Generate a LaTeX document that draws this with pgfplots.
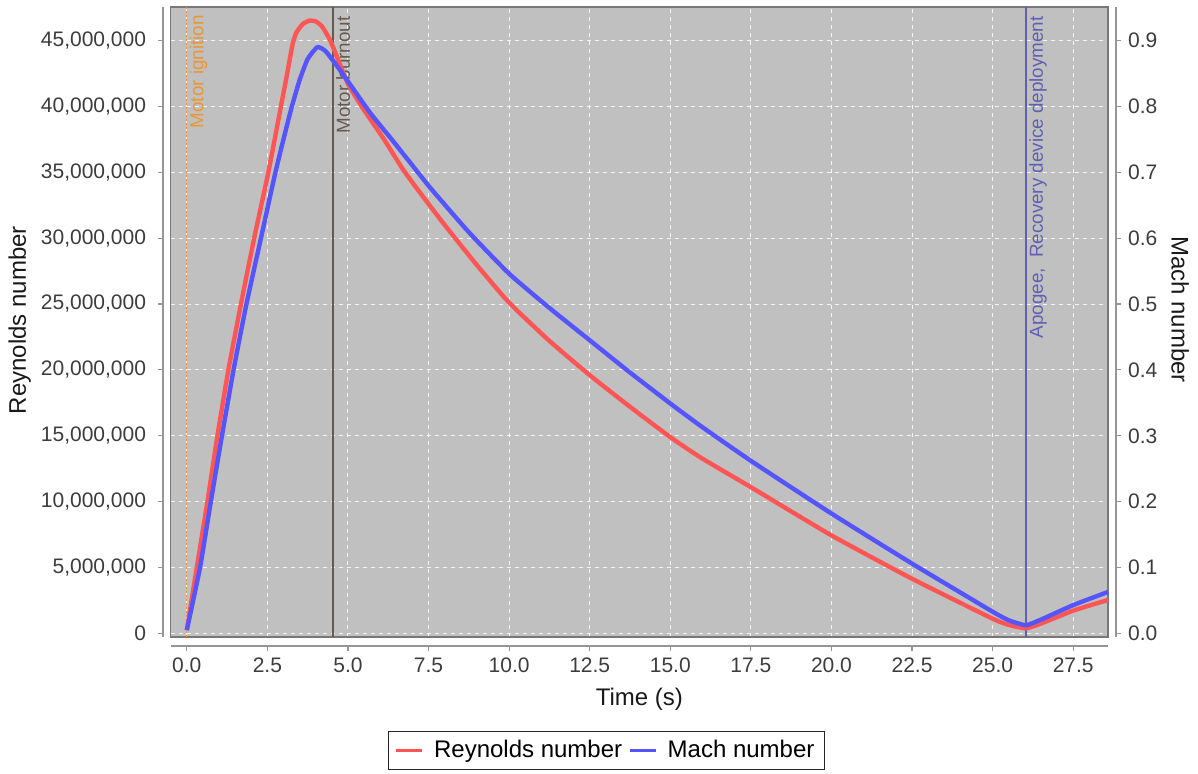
\documentclass[border=0pt]{standalone}
\usepackage{fontspec}
\setmainfont{Liberation Sans}
\usepackage{pgfplots}
\pgfplotsset{compat=1.18}

\definecolor{plotbg}{RGB}{192,192,192}
\definecolor{framegray}{RGB}{120,120,120}
\definecolor{spinegray}{RGB}{150,150,150}
\definecolor{ticktext}{RGB}{60,60,60}
\definecolor{labeltext}{RGB}{25,25,25}
\definecolor{reLine}{RGB}{255,85,85}
\definecolor{machLine}{RGB}{85,85,255}
\definecolor{ignition}{RGB}{235,150,50}
\definecolor{burnout}{RGB}{100,90,80}
\definecolor{apogee}{RGB}{95,95,180}

% Reynolds number vs time
\pgfplotstableread{
t re
0.00 250000
0.31 5000000
0.64 10000000
0.95 15000000
1.29 20000000
1.68 25000000
2.09 30000000
2.53 35000000
2.92 40000000
3.10 42300000
3.28 44700000
3.40 45600000
3.60 46250000
3.80 46500000
4.00 46450000
4.20 46050000
4.45 45000000
4.70 43500000
5.00 41700000
5.45 39900000
6.09 37600000
6.71 35200000
7.25 33400000
8.00 31000000
9.00 27950000
10.00 25100000
11.25 22200000
12.50 19600000
13.75 17200000
15.00 14900000
15.94 13350000
17.50 11100000
20.00 7440000
22.50 4150000
25.00 1120000
25.50 650000
26.03 390000
26.50 750000
27.50 1730000
28.58 2540000
}\redata

% Mach number vs time
\pgfplotstableread{
t mach
0.00 0.005
0.41 0.100
0.745 0.200
1.09 0.300
1.45 0.400
1.85 0.500
2.30 0.600
2.75 0.700
3.05 0.760
3.26 0.800
3.50 0.840
3.75 0.872
4.05 0.890
4.30 0.884
4.65 0.862
5.07 0.833
5.69 0.790
6.32 0.752
6.94 0.714
7.56 0.676
8.75 0.609
10.00 0.546
11.25 0.494
12.50 0.445
13.75 0.396
15.00 0.349
15.94 0.315
17.50 0.262
20.00 0.182
22.50 0.106
25.00 0.033
25.50 0.020
26.03 0.0125
26.50 0.021
27.50 0.043
28.58 0.063
}\machdata

\begin{document}
\begin{tikzpicture}
\path[use as bounding box] (-85.35pt,-68.5pt) rectangle (513.65pt,318.5pt);
\begin{axis}[
  scale only axis, width=468.65pt, height=315pt,
  xmin=-0.5, xmax=28.58, ymin=-270000, ymax=47540000,
  clip=false,
  axis background/.style={fill=plotbg},
  axis line style={draw=framegray, line width=0.6pt},
  tick align=outside, tick pos=left, major tick length=2.5pt,
  xtick={0,2.5,5,7.5,10,12.5,15,17.5,20,22.5,25,27.5},
  xticklabels={0.0,2.5,5.0,7.5,10.0,12.5,15.0,17.5,20.0,22.5,25.0,27.5},
  ytick={0,5000000,10000000,15000000,20000000,25000000,30000000,35000000,40000000,45000000},
  yticklabels={0,{5,000,000},{10,000,000},{15,000,000},{20,000,000},{25,000,000},{30,000,000},{35,000,000},{40,000,000},{45,000,000}},
  xtick style={draw=spinegray, line width=0.6pt, yshift=-4.5pt},
  ytick style={draw=spinegray, line width=0.6pt, xshift=-3.85pt},
  xticklabel style={yshift=-4.5pt, text=ticktext, font=\fontsize{10.5}{12}\selectfont},
  yticklabel style={xshift=-6.3pt, text=ticktext, font=\fontsize{10.5}{12}\selectfont},
  grid=major,
  major grid style={draw=white!92!gray, line width=0.5pt, dash pattern=on 2pt off 2pt},
  xlabel={Time (s)}, ylabel={Reynolds number},
  every axis x label/.style={at={(axis description cs:0.5,-0.0984)}, anchor=center, text=labeltext, font=\fontsize{12}{14}\selectfont},
  every axis y label/.style={at={(axis description cs:-0.161,0.503)}, rotate=90, anchor=center, text=labeltext, font=\fontsize{12}{14}\selectfont},
  legend style={at={(axis description cs:0.465,-0.18)}, anchor=center, draw=black!85, line width=0.6pt, fill=white,
    font=\fontsize{12}{14}\selectfont, legend columns=2, inner xsep=3pt, inner ysep=2.5pt,
    /tikz/every even column/.append style={column sep=1pt}},
  legend image code/.code={\draw[#1, line width=1.5pt] (0pt,0pt) -- (13pt,0pt); \path[draw=none] (0pt,0pt) -- (17pt,0pt);},
]
% offset spines
\draw[spinegray, line width=0.8pt] ([yshift=-4.5pt]rel axis cs:0,0) -- ([yshift=-4.5pt]rel axis cs:1,0);
\draw[spinegray, line width=0.8pt] ([xshift=-3.85pt]rel axis cs:0,0) -- ([xshift=-3.85pt]rel axis cs:0,1);

% flight events
\addplot[ignition, line width=0.6pt, dash pattern=on 1pt off 1pt, forget plot] coordinates {(0,-270000) (0,47540000)};
\addplot[burnout, line width=0.8pt, forget plot] coordinates {(4.53,-270000) (4.53,47540000)};
\addplot[apogee, line width=0.8pt, forget plot] coordinates {(26.03,-270000) (26.03,47540000)};
\node[rotate=90, anchor=north east, inner sep=0pt, text=ignition, font=\fontsize{9.4}{11}\selectfont]
  at ([xshift=1.3pt,yshift=-4pt]axis cs:0,47540000) {Motor ignition};
\node[rotate=90, anchor=north east, inner sep=0pt, text=burnout, font=\fontsize{9.4}{11}\selectfont]
  at ([xshift=1.5pt,yshift=-4.5pt]axis cs:4.53,47540000) {Motor burnout};
\node[rotate=90, anchor=north east, inner sep=0pt, text=apogee, font=\fontsize{9.4}{11}\selectfont]
  at ([xshift=1.5pt,yshift=-4.5pt]axis cs:26.03,47540000) {Apogee,\ \ Recovery device deployment};

\addplot[reLine, line width=2.2pt, line join=round, smooth, tension=0.3] table[x=t, y=re] {\redata};
\addlegendentry{Reynolds number}
\addlegendimage{machLine}
\addlegendentry{Mach number}
\end{axis}

\begin{axis}[
  scale only axis, width=468.65pt, height=315pt,
  xmin=-0.5, xmax=28.58, ymin=-0.0054, ymax=0.9508,
  clip=false,
  axis line style={draw=none},
  xtick=\empty,
  tick align=outside, major tick length=2.5pt,
  ytick pos=right, yticklabel pos=right,
  ytick={0,0.1,0.2,0.3,0.4,0.5,0.6,0.7,0.8,0.9},
  yticklabels={0.0,0.1,0.2,0.3,0.4,0.5,0.6,0.7,0.8,0.9},
  ytick style={draw=spinegray, line width=0.6pt, xshift=4pt},
  yticklabel style={xshift=4pt, text=ticktext, font=\fontsize{10.5}{12}\selectfont},
  ylabel={Mach number},
  every axis y label/.style={at={(axis description cs:1.077,0.52)}, rotate=-90, anchor=center, text=labeltext, font=\fontsize{12}{14}\selectfont},
]
\draw[spinegray, line width=0.8pt] ([xshift=4pt]rel axis cs:1,0) -- ([xshift=4pt]rel axis cs:1,1);
\addplot[machLine, line width=2.2pt, line join=round, smooth, tension=0.3] table[x=t, y=mach] {\machdata};
\end{axis}
\end{tikzpicture}
\end{document}
